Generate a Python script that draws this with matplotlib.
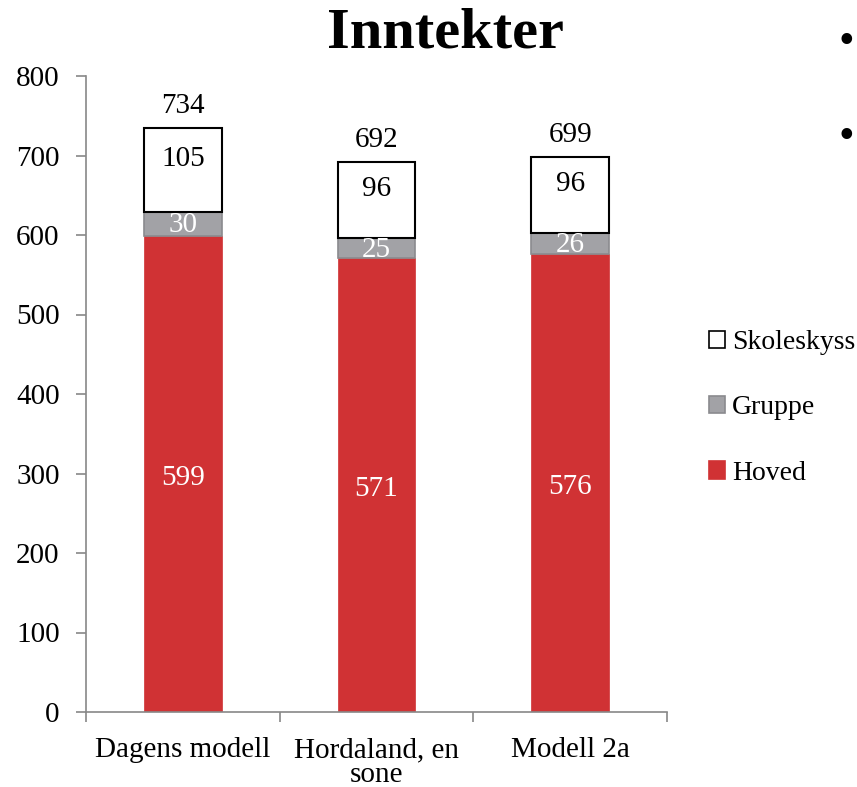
import matplotlib
matplotlib.use("Agg")
import matplotlib.pyplot as plt
import numpy as np
from matplotlib.patches import Patch

plt.rcParams['font.family'] = ['Liberation Serif', 'DejaVu Serif']

categories = ["Dagens modell", "Hordaland, en\nsone", "Modell 2a"]
hoved = [599, 571, 576]
gruppe = [30, 25, 26]
skoleskyss = [105, 96, 96]
totals = [734, 692, 699]
yticks = [0, 100, 200, 300, 400, 500, 600, 700, 800]

red = "#D03234"
grey = "#A2A2A6"
grey_edge = "#8A8A8E"

fig = plt.figure(figsize=(8.57, 7.87), dpi=100)
ax = fig.add_axes([86/857, 1-712/787, (667-86)/857, (712-76)/787])

x = np.arange(len(categories))
w = 0.40
b1 = ax.bar(x, hoved, w, color=red, edgecolor=red, linewidth=0.5, zorder=2)
b2 = ax.bar(x, gruppe, w, bottom=hoved, color=grey, edgecolor=grey_edge, linewidth=1.2, zorder=2)
bottom3 = [h + g for h, g in zip(hoved, gruppe)]
b3 = ax.bar(x, skoleskyss, w, bottom=bottom3, color="white", edgecolor="black", linewidth=1.5, zorder=2)

fs = 21
for i in range(len(categories)):
    ax.annotate(str(hoved[i]), (x[i], hoved[i] / 2), xytext=(0, -3), textcoords='offset points',
                ha='center', va='center', color='white', fontsize=fs)
    ax.annotate(str(gruppe[i]), (x[i], hoved[i] + gruppe[i] / 2), xytext=(0, -1), textcoords='offset points',
                ha='center', va='center', color='white', fontsize=fs)
    ax.annotate(str(skoleskyss[i]), (x[i], bottom3[i] + skoleskyss[i] / 2), xytext=(0, 8),
                textcoords='offset points', ha='center', va='center', color='black', fontsize=fs)
    ax.annotate(str(totals[i]), (x[i], bottom3[i] + skoleskyss[i]), xytext=(0, 16),
                textcoords='offset points', ha='center', va='center', color='black', fontsize=fs)

ax.set_xlim(-0.5, len(categories) - 0.5)
ax.set_ylim(0, 800)
ax.set_yticks(yticks)
ax.set_yticklabels([str(t) for t in yticks], fontsize=fs)
ax.set_xticks(x)
ax.set_xticklabels(categories, fontsize=fs, linespacing=0.95)
ax.tick_params(axis='x', length=0, pad=18)
# category boundary ticks
ax.set_xticks(np.arange(-0.5, len(categories), 1.0), minor=True)
ax.tick_params(axis='x', which='minor', length=7, color='#888888', width=1.2, direction='out')
ax.tick_params(axis='y', length=7, color='#888888', width=1.2, direction='out', pad=12)
for s in ['top', 'right']:
    ax.spines[s].set_visible(False)
for s in ['left', 'bottom']:
    ax.spines[s].set_color('#888888')
    ax.spines[s].set_linewidth(1.2)

fig.text(446/857, 1-33/787, "Inntekter", ha='center', va='center', fontsize=42, fontweight='bold')

handles = [Patch(facecolor='white', edgecolor='black', linewidth=1.2),
           Patch(facecolor=grey, edgecolor=grey_edge, linewidth=1.2),
           Patch(facecolor=red, edgecolor=red, linewidth=1.2)]
labels = ["Skoleskyss", "Gruppe", "Hoved"]
fig.legend(handles, labels, loc='center left', bbox_to_anchor=(709/857, 1-408/787),
           frameon=False, fontsize=20, handlelength=0.58, handleheight=0.58,
           handletextpad=0.25, labelspacing=1.45, borderpad=0, borderaxespad=0)

fig.text(846/857, 1-42/787, "•", ha='center', va='center', fontsize=32)
fig.text(846/857, 1-137/787, "•", ha='center', va='center', fontsize=32)

fig.savefig("out.png", dpi=100)
